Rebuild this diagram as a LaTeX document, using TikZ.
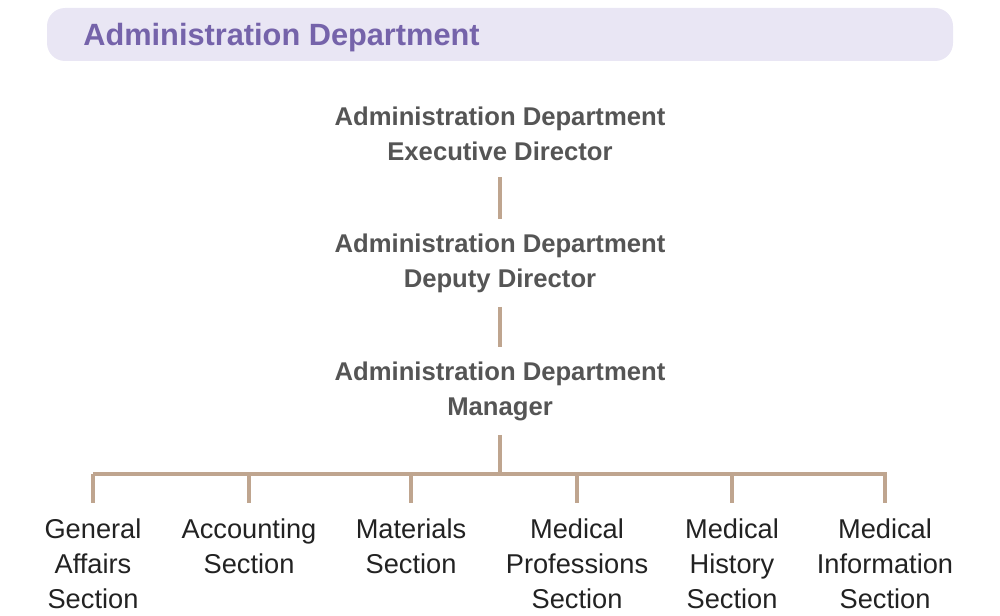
\documentclass[tikz,border=0pt]{standalone}
\usepackage{fontspec}
\setmainfont{Liberation Sans}
\definecolor{headfill}{HTML}{E9E6F4}
\definecolor{headtext}{HTML}{7563AA}
\definecolor{roletext}{HTML}{555555}
\definecolor{sectext}{HTML}{222222}
\definecolor{linktan}{HTML}{BFA58F}
\begin{document}
\begin{tikzpicture}[x=0.02cm,y=-0.02cm,
  role/.style={align=center, inner sep=0pt, minimum height=1.74cm, text=roletext,
    font=\fontsize{14.6}{19.9}\selectfont\bfseries},
  sec/.style={align=center, inner sep=0pt, anchor=north, text=sectext,
    font=\fontsize{15.5}{19.9}\selectfont},
  link/.style={draw=linktan, line width=2.2pt, line join=miter}]
\useasboundingbox (0,0) rectangle (1000,615);
\fill[headfill, rounded corners=0.36cm] (47,8) rectangle (953,61);
\node[anchor=west, inner sep=0pt, text=headtext, font=\fontsize{17.5}{20}\selectfont\bfseries] (title) at (83,38) {Administration Department};

\node[role] (exec) at (500,133.5) {Administration Department\\Executive Director};
\node[role] (dep) at (500,263) {Administration Department\\Deputy Director};
\node[role] (mgr) at (500,391) {Administration Department\\Manager};

\coordinate (bar) at (500,474);

\node[sec] (s1) at (93,518) {General\\Affairs\\Section};
\node[sec] (s2) at (249,518) {Accounting\\Section};
\node[sec] (s3) at (411,518) {Materials\\Section};
\node[sec] (s4) at (577,518) {Medical\\Professions\\Section};
\node[sec] (s5) at (732,518) {Medical\\History\\Section};
\node[sec] (s6) at (885,518) {Medical\\Information\\Section};

\draw[link] (exec.south) -- (dep.north);
\draw[link] (dep.south) -- (mgr.north);
\draw[link] (mgr.south) -- (bar);
\draw[link, shorten >=0.3cm] (s1.north |- bar) -- (s6.north |- bar) -- (s6.north);
\draw[link, shorten >=0.3cm] (s1.north |- bar) -- (s1.north);
\foreach \s in {s2,s3,s4,s5}
  \draw[link, shorten >=0.3cm] (\s.north |- bar) -- (\s.north);
\end{tikzpicture}
\end{document}
